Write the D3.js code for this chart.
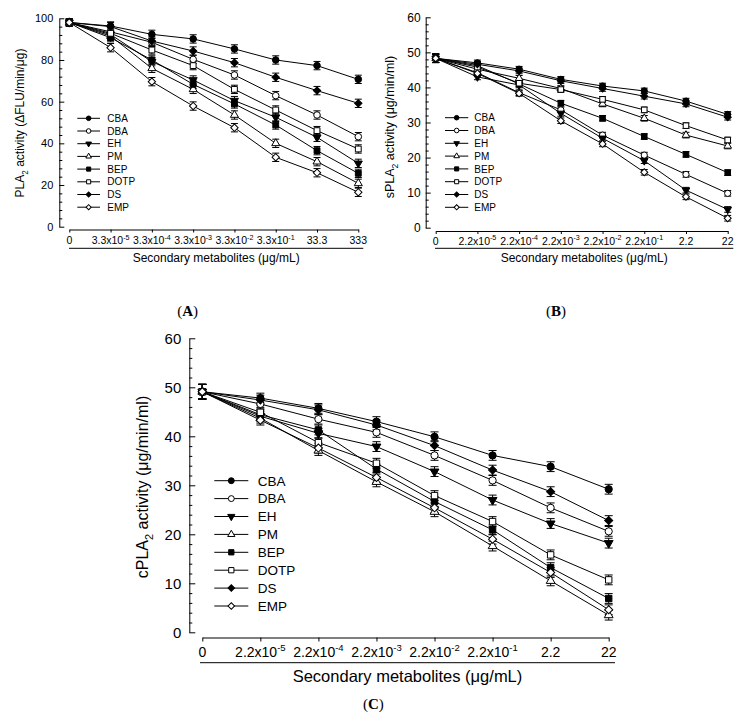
<!DOCTYPE html>
<html>
<head>
<meta charset="utf-8">
<script src="https://cdn.jsdelivr.net/npm/d3@7"></script>
<style>
  html, body { margin: 0; padding: 0; background: #fff; }
  svg { display: block; font-family: Arial, "Liberation Sans", sans-serif; }
</style>
</head>
<body>
<svg id="chart" width="750" height="726"></svg>
<script>
// ---------------- DATA ----------------
const seriesNames = ["CBA", "DBA", "EH", "PM", "BEP", "DOTP", "DS", "EMP"];

// Panel A : PLA2 activity (ΔFLU/min/μg)
const xBaseA = ["0", "3.3x10", "3.3x10", "3.3x10", "3.3x10", "3.3x10", "33.3", "333"];
const xExpA  = ["", "-5", "-4", "-3", "-2", "-1", "", ""];
const yTicksA = [0, 20, 40, 60, 80, 100];
const aCBA  = [98, 96.3, 92.3, 90.1, 85.3, 80.0, 77.3, 70.7];
const aDBA  = [98, 93.5, 88.5, 80.3, 72.8, 62.9, 53.6, 43.2];
const aEH   = [98, 92.2, 79.2, 70.4, 60.5, 52.5, 42.9, 30.4];
const aPM   = [98, 91.5, 76.0, 65.9, 53.6, 40.0, 31.2, 20.8];
const aBEP  = [98, 90.7, 80.0, 68.3, 58.9, 48.8, 36.5, 25.6];
const aDOTP = [98, 92.8, 84.8, 77.3, 65.9, 56.0, 46.1, 37.3];
const aDS   = [98, 96.0, 89.1, 84.3, 78.7, 71.7, 65.3, 59.2];
const aEMP  = [98, 85.9, 69.6, 57.9, 47.5, 33.3, 25.9, 16.5];
const errA  = [1.6, 2, 2, 2, 2, 2, 2, 2];

// Panel B : sPLA2 activity (μg/min/ml)
const xBaseB = ["0", "2.2x10", "2.2x10", "2.2x10", "2.2x10", "2.2x10", "2.2", "22"];
const xExpB  = ["", "-5", "-4", "-3", "-2", "-1", "", ""];
const yTicksB = [0, 10, 20, 30, 40, 50, 60];
const bCBA  = [48.3, 47.0, 45.2, 42.3, 40.4, 39.0, 36.1, 32.3];
const bDBA  = [48.3, 44.2, 38.5, 33.6, 26.4, 20.7, 15.2, 9.8];
const bEH   = [48.3, 43.0, 40.7, 32.6, 25.5, 19.1, 10.7, 5.2];
const bPM   = [48.3, 45.2, 42.6, 39.7, 35.3, 31.2, 26.4, 23.3];
const bBEP  = [48.3, 46.2, 41.0, 35.5, 31.2, 26.0, 20.9, 15.7];
const bDOTP = [48.3, 45.8, 41.2, 39.4, 36.6, 33.6, 29.1, 25.0];
const bDS   = [48.3, 46.6, 44.7, 41.9, 39.7, 37.5, 35.3, 31.5];
const bEMP  = [48.3, 44.0, 38.3, 30.5, 23.9, 15.8, 8.8, 2.7];
const errB  = [1.2, 0.8, 0.8, 0.8, 0.8, 0.8, 0.8, 0.8];

// Panel C : cPLA2 activity (μg/min/ml)
const xBaseC = ["0", "2.2x10", "2.2x10", "2.2x10", "2.2x10", "2.2x10", "2.2", "22"];
const xExpC  = ["", "-5", "-4", "-3", "-2", "-1", "", ""];
const yTicksC = [0, 10, 20, 30, 40, 50, 60];
const cCBA  = [49.1, 47.8, 45.7, 43.0, 39.9, 36.1, 33.8, 29.2];
const cDBA  = [49.1, 46.6, 43.5, 40.8, 36.1, 31.0, 25.4, 20.6];
const cEH   = [49.1, 44.1, 40.6, 37.9, 32.8, 27.0, 22.2, 18.2];
const cPM   = [49.1, 43.7, 37.1, 30.7, 24.6, 17.6, 10.5, 3.5];
const cBEP  = [49.1, 44.4, 41.3, 33.3, 26.7, 20.9, 13.2, 6.9];
const cDOTP = [49.1, 44.9, 38.7, 34.5, 27.9, 22.6, 15.8, 10.7];
const cDS   = [49.1, 47.4, 45.4, 42.3, 38.1, 33.1, 28.7, 22.8];
const cEMP  = [49.1, 43.3, 37.6, 31.6, 25.4, 19.0, 12.2, 4.6];
const errC  = [1.5, 1.0, 1.0, 1.0, 1.0, 1.0, 1.0, 1.0];

// ---------------- STYLE ----------------
const markerStyle = {
  CBA:  { shape: "circle",   filled: true },
  DBA:  { shape: "circle",   filled: false },
  EH:   { shape: "triDown",  filled: true },
  PM:   { shape: "triUp",    filled: false },
  BEP:  { shape: "square",   filled: true },
  DOTP: { shape: "square",   filled: false },
  DS:   { shape: "diamond",  filled: true },
  EMP:  { shape: "diamond",  filled: false }
};

const svg = d3.select("#chart");

function drawMarker(g, name, cx, cy, scale) {
  const st = markerStyle[name];
  let type, size, rot = 0;
  if (st.shape === "circle") { type = d3.symbolCircle; size = 34; }
  else if (st.shape === "square") { type = d3.symbolSquare; size = 34; }
  else if (st.shape === "diamond") { type = d3.symbolSquare; size = 27; rot = 45; }
  else if (st.shape === "triUp") { type = d3.symbolTriangle; size = 28; }
  else { type = d3.symbolTriangle; size = 28; rot = 180; }
  g.append("path")
    .attr("d", d3.symbol().type(type).size(size * scale * scale)())
    .attr("transform", `translate(${cx},${cy}) rotate(${rot})`)
    .attr("fill", st.filled ? "#000" : "#fff")
    .attr("stroke", "#000")
    .attr("stroke-width", 1);
}

function drawPanel(cfg) {
  const g = svg.append("g");
  const x = d3.scalePoint().domain(d3.range(cfg.xBase.length)).range([cfg.x0, cfg.x1]);
  const y = d3.scaleLinear().domain([0, cfg.yMax]).range([cfg.yBot, cfg.yTop]);

  // Y axis (inward ticks)
  const minorVals = d3.range(0, cfg.yMax + 1e-9, cfg.yMinor).filter(v => !cfg.yTicks.includes(v));
  const yMinorAxis = d3.axisLeft(y).tickValues(minorVals).tickSizeInner(-cfg.minorLen).tickSizeOuter(0).tickFormat("");
  const yg2 = g.append("g").attr("transform", `translate(${cfg.yAxisX},0)`).call(yMinorAxis);
  yg2.select(".domain").remove();
  const yAxis = d3.axisLeft(y).tickValues(cfg.yTicks).tickSizeInner(-cfg.majorLen).tickSizeOuter(0).tickPadding(cfg.tickPad);
  const yg = g.append("g").attr("transform", `translate(${cfg.yAxisX},0)`).call(yAxis);
  yg.selectAll("text").attr("font-size", cfg.fsY).attr("font-family", "Arial, 'Liberation Sans', sans-serif").attr("fill", "#000");
  g.selectAll(".domain, .tick line").attr("stroke", "#000");

  // X axis (separate, below)
  const xAxis = d3.axisBottom(x).tickSizeInner(cfg.xTickLen).tickSizeOuter(0).tickFormat("");
  const xg = g.append("g").attr("transform", `translate(0,${cfg.xAxisY})`).call(xAxis);
  xg.selectAll(".domain, .tick line").attr("stroke", "#000");

  // X tick labels with superscripts
  cfg.xBase.forEach((b, i) => {
    const t = g.append("text")
      .attr("x", x(i)).attr("y", cfg.xLabY)
      .attr("text-anchor", "middle")
      .attr("font-size", cfg.fsX);
    t.append("tspan").text(b);
    if (cfg.xExp[i]) {
      t.append("tspan").attr("dy", -cfg.fsX * 0.4).attr("font-size", cfg.fsX * 0.68).text(cfg.xExp[i]);
    }
  });

  // separator line + title
  g.append("line").attr("x1", cfg.sepX0).attr("x2", cfg.sepX1)
    .attr("y1", cfg.sepY).attr("y2", cfg.sepY).attr("stroke", "#000").attr("stroke-width", 1);
  g.append("text").attr("x", (cfg.sepX0 + cfg.sepX1) / 2).attr("y", cfg.titleY)
    .attr("text-anchor", "middle").attr("font-size", cfg.fsTitle)
    .text("Secondary metabolites (μg/mL)");

  // Y title
  const yt = g.append("text")
    .attr("transform", `translate(${cfg.yTitleX},${cfg.yTitleY}) rotate(-90)`)
    .attr("text-anchor", "middle").attr("font-size", cfg.fsYTitle);
  yt.append("tspan").text(cfg.yTitlePre);
  yt.append("tspan").attr("dy", cfg.fsYTitle * 0.3).attr("font-size", cfg.fsYTitle * 0.68).text("2");
  yt.append("tspan").attr("dy", -cfg.fsYTitle * 0.3).text(cfg.yTitlePost);

  // Lines
  const line = d3.line().x((d, i) => x(i)).y(d => y(d));
  seriesNames.forEach(n => {
    g.append("path").datum(cfg.data[n]).attr("d", line)
      .attr("fill", "none").attr("stroke", "#000").attr("stroke-width", 1);
  });
  // Error bars
  seriesNames.forEach(n => {
    cfg.data[n].forEach((v, i) => {
      const e = cfg.err[i];
      const cx = x(i);
      g.append("line").attr("x1", cx).attr("x2", cx).attr("y1", y(v - e)).attr("y2", y(v + e)).attr("stroke", "#000");
      [v - e, v + e].forEach(w => {
        g.append("line").attr("x1", cx - cfg.cap).attr("x2", cx + cfg.cap)
          .attr("y1", y(w)).attr("y2", y(w)).attr("stroke", "#000");
      });
    });
  });
  // Markers
  seriesNames.forEach(n => {
    cfg.data[n].forEach((v, i) => drawMarker(g, n, x(i), y(v), cfg.mScale));
  });

  // Legend
  seriesNames.forEach((n, k) => {
    const ly = cfg.legY0 + k * cfg.legDy;
    g.append("line").attr("x1", cfg.legX0).attr("x2", cfg.legX1).attr("y1", ly).attr("y2", ly)
      .attr("stroke", "#000").attr("stroke-width", 1);
    drawMarker(g, n, (cfg.legX0 + cfg.legX1) / 2, ly, cfg.legScale);
    g.append("text").attr("x", cfg.legTextX).attr("y", ly).attr("dy", "0.36em")
      .attr("font-size", cfg.fsLeg).text(n);
  });
}

drawPanel({
  data: { CBA: aCBA, DBA: aDBA, EH: aEH, PM: aPM, BEP: aBEP, DOTP: aDOTP, DS: aDS, EMP: aEMP },
  err: errA, xBase: xBaseA, xExp: xExpA, yTicks: yTicksA, yMax: 100, yMinor: 4,
  x0: 69.3, x1: 358.3, yAxisX: 59.3, yTop: 18.3, yBot: 226.7,
  majorLen: 5, minorLen: 3, tickPad: 6, xAxisY: 229.5, xTickLen: 3, xLabY: 244,
  sepX0: 69, sepX1: 363.3, sepY: 248.3, titleY: 261.5,
  yTitleX: 24, yTitleY: 123, yTitlePre: "PLA", yTitlePost: " activity (ΔFLU/min/μg)",
  fsY: 11, fsX: 10.5, fsTitle: 12, fsYTitle: 12, fsLeg: 10,
  cap: 3.5, mScale: 1, legScale: 0.7,
  legX0: 77.3, legX1: 100, legTextX: 107.3, legY0: 118.3, legDy: 12.7
});

drawPanel({
  data: { CBA: bCBA, DBA: bDBA, EH: bEH, PM: bPM, BEP: bBEP, DOTP: bDOTP, DS: bDS, EMP: bEMP },
  err: errB, xBase: xBaseB, xExp: xExpB, yTicks: yTicksB, yMax: 60, yMinor: 2,
  x0: 435.7, x1: 727.7, yAxisX: 425.7, yTop: 17.3, yBot: 227.7,
  majorLen: 5, minorLen: 3, tickPad: 5, xAxisY: 231, xTickLen: 3, xLabY: 244.5,
  sepX0: 435, sepX1: 733.3, sepY: 248.3, titleY: 261.5,
  yTitleX: 394, yTitleY: 127, yTitlePre: "sPLA", yTitlePost: " activity (μg/min/ml)",
  fsY: 12, fsX: 10.5, fsTitle: 12, fsYTitle: 12.5, fsLeg: 10,
  cap: 3.5, mScale: 0.95, legScale: 0.7,
  legX0: 445, legX1: 468.3, legTextX: 474.3, legY0: 117.7, legDy: 12.8
});

drawPanel({
  data: { CBA: cCBA, DBA: cDBA, EH: cEH, PM: cPM, BEP: cBEP, DOTP: cDOTP, DS: cDS, EMP: cEMP },
  err: errC, xBase: xBaseC, xExp: xExpC, yTicks: yTicksC, yMax: 60, yMinor: 2,
  x0: 202.3, x1: 608.7, yAxisX: 189.3, yTop: 338.3, yBot: 632.3,
  majorLen: 6, minorLen: 3, tickPad: 8, xAxisY: 637.5, xTickLen: 4, xLabY: 656.5,
  sepX0: 200, sepX1: 615, sepY: 662.7, titleY: 682,
  yTitleX: 148, yTitleY: 487, yTitlePre: "cPLA", yTitlePost: " activity (μg/min/ml)",
  fsY: 15, fsX: 14, fsTitle: 16.5, fsYTitle: 16, fsLeg: 13.5,
  cap: 4, mScale: 1.1, legScale: 0.9,
  legX0: 214.3, legX1: 248.3, legTextX: 257.7, legY0: 480.7, legDy: 17.9
});

// Panel letters
[["A", 187.7, 316], ["B", 556, 316], ["C", 373.3, 709]].forEach(([L, px, py]) => {
  const t = svg.append("text").attr("x", px).attr("y", py).attr("text-anchor", "middle")
    .attr("font-family", "'Liberation Serif', 'DejaVu Serif', serif").attr("font-size", 15);
  t.append("tspan").text("(");
  t.append("tspan").attr("font-weight", "bold").text(L);
  t.append("tspan").text(")");
});
</script>
</body>
</html>
